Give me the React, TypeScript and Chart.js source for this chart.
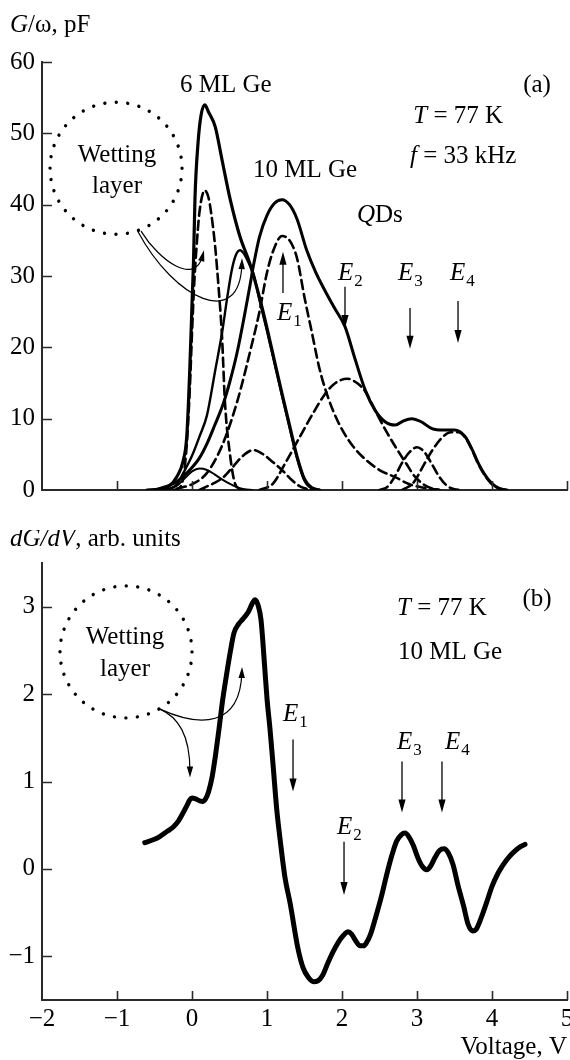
import React, { useEffect, useRef } from 'react';
import { Chart, registerables } from 'chart.js';

Chart.register(...registerables);

const FONT = '"Liberation Serif", "Times New Roman", Times, serif';
const INK = '#000000';
const AXIS = '#2a2a2a';
const FS = 25;

// ---------- axes ----------
const X_MIN = -2;
const X_MAX = 5;
const xTicks = [-2, -1, 0, 1, 2, 3, 4, 5];
const TOP_Y_MIN = 0;
const TOP_Y_MAX = 60;
const topYTicks = [0, 10, 20, 30, 40, 50, 60];
const BOT_Y_MIN = -1.5;
const BOT_Y_MAX = 3.5;
const botYTicks = [-1, 0, 1, 2, 3];

// ---------- panel (a): G/omega, pF ----------
const ml6TotalV = [-0.6, -0.45, -0.3, -0.2, -0.12, -0.07, -0.03, 0.0, 0.02, 0.04, 0.08, 0.12, 0.17, 0.22, 0.31, 0.4, 0.51, 0.64, 0.77, 0.9, 1.0, 1.08, 1.2, 1.3, 1.4, 1.5, 1.6, 1.7];
const ml6TotalG = [0, 0.1, 0.6, 1.9, 4, 7.5, 16.8, 26, 32, 41, 48.6, 52.5, 54, 53, 50.9, 46.3, 40.7, 35.5, 31.8, 27, 22.7, 19, 13.5, 9.1, 4.7, 1.5, 0.3, 0];

const ml6QdV = [-0.35, -0.2, -0.12, 0.0, 0.1, 0.2, 0.31, 0.4, 0.47, 0.53, 0.58, 0.64, 0.7, 0.77, 0.82, 0.9, 1.0, 1.08, 1.2, 1.3, 1.4, 1.5, 1.6, 1.7];
const ml6QdG = [0, 0.8, 2.3, 4.8, 7.5, 10.5, 16.8, 22, 27, 30.8, 32.8, 33.6, 33.0, 31.5, 30.3, 26.6, 22.3, 18.7, 13.2, 8.8, 4.5, 1.3, 0.2, 0];

const ml10TotalV = [-0.5, -0.34, -0.2, -0.03, 0.1, 0.2, 0.3, 0.42, 0.5, 0.6, 0.7, 0.77, 0.82, 0.9, 1.0, 1.1, 1.2, 1.3, 1.4, 1.53, 1.65, 1.77, 1.9, 2.04, 2.17, 2.31, 2.44, 2.57, 2.71, 2.82, 2.93, 3.05, 3.2, 3.35, 3.5, 3.64, 3.73, 3.82, 3.92, 4.0, 4.1, 4.2];
const ml10TotalG = [0, 0.5, 1.2, 2.8, 4.5, 6.5, 9, 12.2, 15, 19.2, 24.5, 28.5, 31.5, 35.5, 38.5, 40.2, 40.7, 40, 38, 33.6, 30.5, 28, 25.5, 22.9, 18.5, 14, 11.2, 9.6, 9.1, 9.7, 10, 9.6, 8.6, 8.4, 8.4, 7.5, 5.8, 3.7, 1.9, 0.9, 0.2, 0];

const ml10WlV = [-0.35, -0.2, -0.1, 0.0, 0.1, 0.2, 0.3, 0.4, 0.5, 0.6, 0.7, 0.8];
const ml10WlG = [0, 0.6, 1.6, 2.6, 3.0, 2.8, 2.2, 1.5, 0.9, 0.4, 0.1, 0];

const wl6V = [-0.25, -0.15, -0.08, -0.03, 0.0, 0.03, 0.06, 0.1, 0.17, 0.22, 0.26, 0.31, 0.35, 0.4, 0.44, 0.51, 0.57, 0.65];
const wl6G = [0, 0.5, 5, 14, 22, 29, 34, 39, 42, 41, 38.5, 34, 29, 21.5, 12.2, 4.7, 1, 0];

const humpV = [0.1, 0.2, 0.3, 0.42, 0.55, 0.68, 0.82, 0.95, 1.08, 1.22, 1.33, 1.44, 1.55, 1.6];
const humpG = [0, 0.5, 1, 1.8, 3.3, 4.8, 5.6, 5, 3.9, 2.6, 1.4, 0.5, 0.1, 0];

const e1V = [-0.2, 0.0, 0.2, 0.4, 0.6, 0.8, 0.9, 1.0, 1.1, 1.2, 1.3, 1.4, 1.5, 1.6, 1.7, 1.82, 1.95, 2.1, 2.26, 2.5, 2.71, 2.9, 3.1, 3.3];
const e1G = [0.2, 0.8, 2.4, 6.2, 12.3, 20.5, 25, 30.5, 34, 35.6, 35, 32.5, 27, 22, 17, 12.8, 9.5, 6.8, 4.8, 2.8, 1.8, 0.8, 0.3, 0];

const e2V = [0.9, 1.08, 1.24, 1.44, 1.6, 1.77, 1.9, 2.07, 2.2, 2.31, 2.44, 2.57, 2.71, 2.85, 2.97, 3.1, 3.2, 3.3];
const e2G = [0, 0.9, 3.7, 7.5, 10.5, 13.4, 14.9, 15.6, 15, 13.8, 11.2, 8.6, 6.1, 3.8, 1.9, 0.7, 0.2, 0];

const e3V = [2.5, 2.6, 2.7, 2.8, 2.9, 3.0, 3.1, 3.2, 3.3, 3.4, 3.5, 3.6];
const e3G = [0, 0.4, 1.8, 3.8, 5.3, 6, 5.3, 3.6, 1.8, 0.6, 0.1, 0];

const e4V = [2.8, 2.95, 3.1, 3.2, 3.33, 3.45, 3.55, 3.64, 3.73, 3.82, 3.92, 4.0, 4.1, 4.2];
const e4G = [0, 1, 3.7, 5.5, 7.3, 8.1, 8.1, 7.4, 5.7, 3.6, 1.8, 0.8, 0.2, 0];

// ---------- panel (b): dG/dV ----------
const dgV = [-0.63, -0.5, -0.43, -0.33, -0.25, -0.18, -0.12, -0.07, -0.03, 0.0, 0.05, 0.1, 0.14, 0.18, 0.22, 0.27, 0.31, 0.36, 0.41, 0.46, 0.51, 0.56, 0.62, 0.68, 0.75, 0.8, 0.84, 0.88, 0.92, 0.97, 1.0, 1.04, 1.08, 1.13, 1.18, 1.24, 1.31, 1.41, 1.48, 1.55, 1.62, 1.68, 1.74, 1.81, 1.88, 1.95, 2.02, 2.08, 2.13, 2.18, 2.24, 2.29, 2.33, 2.38, 2.45, 2.53, 2.6, 2.67, 2.73, 2.79, 2.84, 2.89, 2.95, 3.01, 3.07, 3.13, 3.18, 3.24, 3.3, 3.36, 3.42, 3.48, 3.55, 3.62, 3.68, 3.74, 3.79, 3.86, 3.93, 4.0, 4.08, 4.15, 4.22, 4.3, 4.37, 4.44];
const dgD = [0.30, 0.34, 0.37, 0.43, 0.48, 0.55, 0.64, 0.72, 0.79, 0.81, 0.80, 0.78, 0.77, 0.80, 0.88, 1.06, 1.28, 1.6, 1.94, 2.22, 2.48, 2.70, 2.80, 2.86, 2.94, 3.03, 3.08, 3.02, 2.85, 2.3, 1.95, 1.6, 1.2, 0.68, 0.3, -0.1, -0.4, -0.9, -1.13, -1.24, -1.29, -1.28, -1.22, -1.08, -0.95, -0.84, -0.76, -0.72, -0.75, -0.82, -0.88, -0.88, -0.84, -0.75, -0.55, -0.3, -0.05, 0.17, 0.32, 0.39, 0.41, 0.37, 0.27, 0.13, 0.03, -0.01, 0.03, 0.13, 0.21, 0.23, 0.18, 0.05, -0.2, -0.42, -0.63, -0.71, -0.69, -0.55, -0.38, -0.2, -0.05, 0.05, 0.13, 0.2, 0.25, 0.28];

// ---------- annotations (in data units) ----------
type Seg = { t: string; i?: boolean; sub?: boolean };
type Txt = { segs: Seg[]; v: number; y: number; align: 'left' | 'center' };
const E = (n: number): Seg[] => [{ t: 'E', i: true }, { t: String(n), sub: true }];

const topTexts: Txt[] = [
  { segs: [{ t: '6 ML Ge' }], v: 0.45, y: 55.8, align: 'center' },
  { segs: [{ t: 'Wetting' }], v: -1.0, y: 46.0, align: 'center' },
  { segs: [{ t: 'layer' }], v: -1.0, y: 41.6, align: 'center' },
  { segs: [{ t: '(a)' }], v: 4.6, y: 55.8, align: 'center' },
  { segs: [{ t: 'T', i: true }, { t: ' = 77 K' }], v: 2.95, y: 51.5, align: 'left' },
  { segs: [{ t: 'f', i: true }, { t: ' = 33 kHz' }], v: 2.907, y: 45.8, align: 'left' },
  { segs: [{ t: '10 ML Ge' }], v: 1.507, y: 43.9, align: 'center' },
  { segs: [{ t: 'Q', i: true }, { t: 'Ds' }], v: 2.2, y: 37.6, align: 'left' },
  { segs: E(1), v: 1.133, y: 23.8, align: 'left' },
  { segs: E(2), v: 1.947, y: 29.4, align: 'left' },
  { segs: E(3), v: 2.747, y: 29.4, align: 'left' },
  { segs: E(4), v: 3.44, y: 29.4, align: 'left' },
];
const topArrows = [
  { v: 1.213, y0: 27.6, y1: 33.4 },
  { v: 2.04, y0: 28.5, y1: 22.7 },
  { v: 2.907, y0: 25.5, y1: 19.8 },
  { v: 3.547, y0: 26.5, y1: 20.6 },
];
const topCurves = [
  [[-0.68, 36.3], [-0.427, 32.0], [0.04, 28.7], [0.16, 33.6]],
  [[-0.72, 36.2], [-0.227, 26.6], [0.64, 22.4], [0.667, 32.5]],
];
const topCircle = { v: -1.013, y: 45.1, r: 66 };

const botTexts: Txt[] = [
  { segs: [{ t: 'Wetting' }], v: -0.893, y: 2.575, align: 'center' },
  { segs: [{ t: 'layer' }], v: -0.893, y: 2.207, align: 'center' },
  { segs: [{ t: '(b)' }], v: 4.6, y: 3.01, align: 'center' },
  { segs: [{ t: 'T', i: true }, { t: ' = 77 K' }], v: 2.733, y: 2.9, align: 'left' },
  { segs: [{ t: '10 ML Ge' }], v: 2.747, y: 2.4, align: 'left' },
  { segs: E(1), v: 1.213, y: 1.69, align: 'left' },
  { segs: E(2), v: 1.933, y: 0.4, align: 'left' },
  { segs: E(3), v: 2.733, y: 1.37, align: 'left' },
  { segs: E(4), v: 3.373, y: 1.37, align: 'left' },
];
const botArrows = [
  { v: 1.347, y0: 1.48, y1: 0.885 },
  { v: 2.027, y0: 0.31, y1: -0.3 },
  { v: 2.8, y0: 1.23, y1: 0.644 },
  { v: 3.333, y0: 1.23, y1: 0.644 },
];
const botCurves = [
  [[-0.427, 1.828], [-0.187, 1.736], [-0.027, 1.54], [-0.027, 1.046]],
  [[-0.427, 1.828], [0.107, 1.62], [0.64, 1.62], [0.667, 2.31]],
];
const botCircle = { v: -0.88, y: 2.483, r: 66 };

// ---------- helpers ----------
const pts = (xs: number[], ys: number[]) => xs.map((x, i) => ({ x, y: ys[i] }));
const fmt = (v: any) => String(v).replace('-', '\u2212');
const fixedTicks = (vals: number[]) => (scale: any) => {
  scale.ticks = vals.map((value) => ({ value }));
};

function drawRich(ctx: CanvasRenderingContext2D, segs: Seg[], x: number, y: number, align: string) {
  const fontFor = (s: Seg) => `${s.i ? 'italic ' : ''}${s.sub ? 17 : FS}px ${FONT}`;
  let total = 0;
  const widths = segs.map((s) => {
    ctx.font = fontFor(s);
    const w = ctx.measureText(s.t).width + (s.sub ? 1 : 0);
    total += w;
    return w;
  });
  let cx = align === 'center' ? x - total / 2 : x;
  ctx.textAlign = 'left';
  ctx.textBaseline = 'alphabetic';
  ctx.fillStyle = INK;
  segs.forEach((s, k) => {
    ctx.font = fontFor(s);
    ctx.fillText(s.t, cx + (s.sub ? 1 : 0), y + (s.sub ? 6 : 0));
    cx += widths[k];
  });
}

function arrowHead(ctx: CanvasRenderingContext2D, x: number, y: number, ang: number, len = 13, half = 3.6) {
  const c = Math.cos(ang);
  const s = Math.sin(ang);
  ctx.beginPath();
  ctx.moveTo(x, y);
  ctx.lineTo(x - len * c + half * s, y - len * s - half * c);
  ctx.lineTo(x - len * c - half * s, y - len * s + half * c);
  ctx.closePath();
  ctx.fill();
}

function annotPlugin(texts: Txt[], arrows: any[], curves: number[][][], circle: any, title: Seg[], titleDx: number, titleDy: number) {
  return {
    id: 'annot',
    afterDraw(chart: any) {
      const ctx: CanvasRenderingContext2D = chart.ctx;
      const xs = chart.scales.x;
      const ys = chart.scales.y;
      const X = (v: number) => xs.getPixelForValue(v);
      const Y = (v: number) => ys.getPixelForValue(v);
      const area = chart.chartArea;
      ctx.save();
      // inward tick marks
      ctx.strokeStyle = AXIS;
      ctx.lineWidth = 1.6;
      ctx.beginPath();
      xs.ticks.forEach((t: any) => {
        if (t.value <= X_MIN) return;
        const p = Math.round(X(t.value)) + 0.5;
        ctx.moveTo(p, area.bottom);
        ctx.lineTo(p, area.bottom - 9);
      });
      ys.ticks.forEach((t: any) => {
        const p = Math.round(Y(t.value)) + 0.5;
        if (Math.abs(p - area.bottom) < 2) return;
        ctx.moveTo(area.left, p);
        ctx.lineTo(area.left + 10, p);
      });
      ctx.stroke();

      // axis title
      drawRich(ctx, title, area.left + titleDx, area.top + titleDy, 'left');

      // texts
      texts.forEach((t) => drawRich(ctx, t.segs, X(t.v), Y(t.y), t.align));

      // dotted circle
      ctx.save();
      ctx.strokeStyle = INK;
      ctx.lineWidth = 3.4;
      ctx.lineCap = 'round';
      ctx.setLineDash([0.01, 11.5]);
      ctx.beginPath();
      ctx.arc(X(circle.v), Y(circle.y), circle.r, 0, Math.PI * 2);
      ctx.stroke();
      ctx.restore();

      // straight arrows
      ctx.strokeStyle = INK;
      ctx.fillStyle = INK;
      ctx.lineWidth = 1.3;
      arrows.forEach((a) => {
        const x = X(a.v);
        const y0 = Y(a.y0);
        const y1 = Y(a.y1);
        const dir = y1 > y0 ? 1 : -1;
        ctx.beginPath();
        ctx.moveTo(x, y0);
        ctx.lineTo(x, y1 - dir * 8);
        ctx.stroke();
        arrowHead(ctx, x, y1, dir > 0 ? Math.PI / 2 : -Math.PI / 2);
      });

      // curved arrows
      ctx.lineWidth = 1.2;
      curves.forEach((c) => {
        const p = c.map(([v, y]) => [X(v), Y(y)]);
        const ang = Math.atan2(p[3][1] - p[2][1], p[3][0] - p[2][0]);
        ctx.beginPath();
        ctx.moveTo(p[0][0], p[0][1]);
        ctx.bezierCurveTo(p[1][0], p[1][1], p[2][0], p[2][1], p[3][0] - 6 * Math.cos(ang), p[3][1] - 6 * Math.sin(ang));
        ctx.stroke();
        arrowHead(ctx, p[3][0], p[3][1], ang, 11, 3.2);
      });
      ctx.restore();
    },
  };
}

const line = (data: any[], width: number, dash: number[] = []) => ({
  type: 'line' as const,
  data,
  borderColor: INK,
  borderWidth: width,
  borderDash: dash,
  pointRadius: 0,
  fill: false,
  cubicInterpolationMode: 'monotone' as const,
  borderCapStyle: 'round' as const,
  borderJoinStyle: 'round' as const,
});

const zeroPad = (s: any) => {
  s.paddingLeft = 0;
  s.paddingRight = 0;
  s.paddingTop = 0;
  s.paddingBottom = 0;
};

function scales(yMin: number, yMax: number, yTicks: number[], showX: boolean) {
  return {
    x: {
      type: 'linear',
      min: X_MIN,
      max: X_MAX,
      afterBuildTicks: fixedTicks(xTicks),
      ticks: {
        display: showX,
        autoSkip: false,
        maxRotation: 0,
        padding: 4,
        color: INK,
        font: { family: FONT, size: FS },
        callback: fmt,
      },
      grid: { display: false, drawTicks: false },
      border: { display: true, color: AXIS, width: 2 },
      title: {
        display: showX,
        text: 'Voltage, V',
        align: 'end',
        color: INK,
        font: { family: FONT, size: FS, lineHeight: 1 },
        padding: 0,
      },
      afterFit: (s: any) => {
        s.height = showX ? 60 : 40;
        zeroPad(s);
      },
    },
    y: {
      type: 'linear',
      min: yMin,
      max: yMax,
      afterBuildTicks: fixedTicks(yTicks),
      ticks: {
        autoSkip: false,
        padding: 7,
        color: INK,
        font: { family: FONT, size: FS },
        callback: fmt,
      },
      grid: { display: false, drawTicks: false },
      border: { display: true, color: AXIS, width: 2 },
      afterFit: (s: any) => {
        s.width = 42;
        zeroPad(s);
      },
    },
  };
}

function topConfig(): any {
  return {
    type: 'line',
    data: {
      datasets: [
        line(pts(ml6TotalV, ml6TotalG), 3.2),
        line(pts(ml10TotalV, ml10TotalG), 3),
        line(pts(ml6QdV, ml6QdG), 2.4),
        line(pts(ml10WlV, ml10WlG), 2),
        line(pts(wl6V, wl6G), 2.6, [9, 5]),
        line(pts(humpV, humpG), 2.6, [9, 5]),
        line(pts(e1V, e1G), 2.6, [9, 5]),
        line(pts(e2V, e2G), 2.6, [9, 5]),
        line(pts(e3V, e3G), 2.6, [9, 5]),
        line(pts(e4V, e4G), 2.6, [9, 5]),
      ],
    },
    options: {
      responsive: false,
      animation: false,
      events: [],
      layout: { padding: { top: 62, right: 3, left: 0, bottom: 0 } },
      plugins: { legend: { display: false }, tooltip: { enabled: false } },
      scales: scales(TOP_Y_MIN, TOP_Y_MAX, topYTicks, false),
    },
    plugins: [
      annotPlugin(topTexts, topArrows, topCurves, topCircle, [{ t: 'G', i: true }, { t: '/\u03c9, pF' }], -32, -30),
    ],
  };
}

function botConfig(): any {
  return {
    type: 'line',
    data: {
      datasets: [line(pts(dgV, dgD), 5)],
    },
    options: {
      responsive: false,
      animation: false,
      events: [],
      layout: { padding: { top: 33, right: 3, left: 0, bottom: 0 } },
      plugins: { legend: { display: false }, tooltip: { enabled: false } },
      scales: scales(BOT_Y_MIN, BOT_Y_MAX, botYTicks, true),
    },
    plugins: [
      annotPlugin(botTexts, botArrows, botCurves, botCircle, [{ t: 'dG/dV', i: true }, { t: ', arb. units' }], -32, -17),
    ],
  };
}

export default function App() {
  const topRef = useRef<HTMLCanvasElement>(null);
  const botRef = useRef<HTMLCanvasElement>(null);
  useEffect(() => {
    const c1 = new Chart(topRef.current as HTMLCanvasElement, topConfig());
    const c2 = new Chart(botRef.current as HTMLCanvasElement, botConfig());
    return () => {
      c1.destroy();
      c2.destroy();
    };
  }, []);
  return (
    <div style={{ position: 'absolute', left: 0, top: 0, width: 570, height: 1060, background: '#fff' }}>
      <canvas ref={topRef} width={570} height={530} style={{ position: 'absolute', left: 0, top: 0 }} />
      <canvas ref={botRef} width={570} height={530} style={{ position: 'absolute', left: 0, top: 530 }} />
    </div>
  );
}
